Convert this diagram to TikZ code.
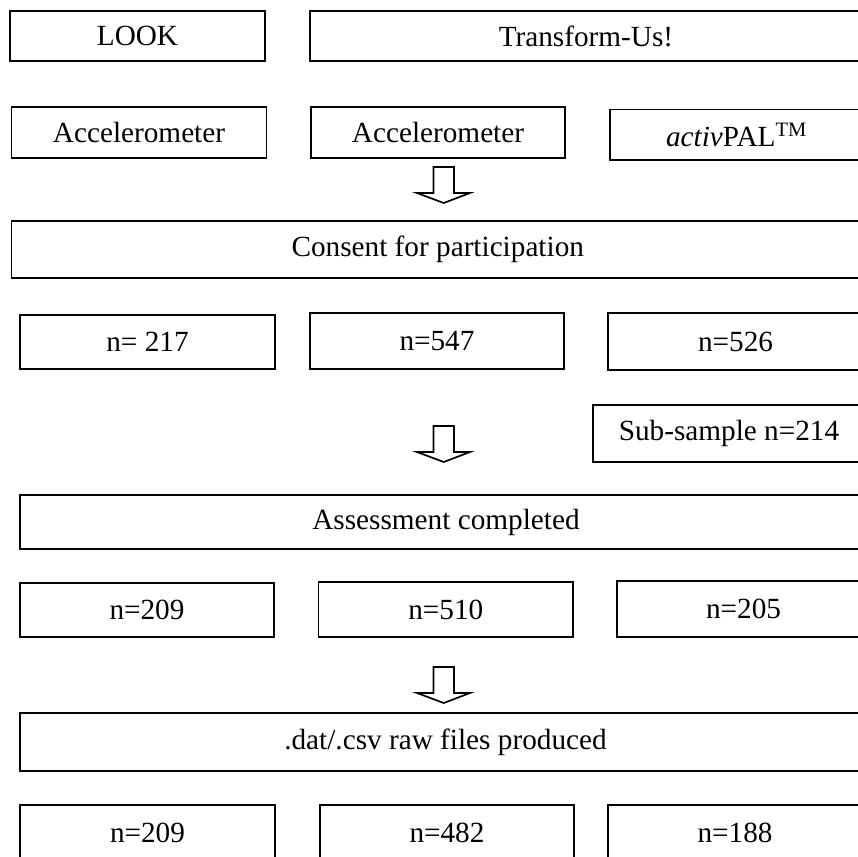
\documentclass[tikz,border=0pt]{standalone}
\usepackage{fontspec}
\setmainfont{Liberation Serif}

\begin{document}
\begin{tikzpicture}[
    x=0.025cm, y=-0.025cm,
    box/.style={rectangle, draw, line width=1.2pt, inner sep=0pt, outer sep=0pt, align=center, font=\fontsize{20.8}{25}\selectfont},
    boxsize/.style 2 args={minimum width=#1*0.025cm, minimum height=#2*0.025cm},
    blockarrow/.style={draw, line width=1.2pt, fill=white, line join=miter}
]
    \useasboundingbox (0,0) rectangle (858,857);
    \clip (0,0) rectangle (858,857);

    % studies
    \node[box, boxsize={255}{50}] (look) at (137.5,36) {LOOK};
    \node[box, boxsize={552}{50}] (transform) at (586,36) {Transform-Us!};

    % devices
    \node[box, boxsize={255}{51}] (acc1) at (139,132.5) {Accelerometer};
    \node[box, boxsize={254}{51}] (acc2) at (438,132.5) {Accelerometer};
    \node[box, boxsize={253}{50.5}] (activpal) at (736.5,134.75) {\textit{activ}PAL\textsuperscript{TM}};

    \node[box, boxsize={852.5}{57}] (consent) at (437.75,249.5) {Consent for participation};

    \node[box, boxsize={255}{54}] (c1) at (147.5,342) {n= 217};
    \node[box, boxsize={254}{56}] (c2) at (437,341) {n=547};
    \node[box, boxsize={255}{57}] (c3) at (735.5,341.5) {n=526};
    \node[box, boxsize={272}{57}] (sub) at (729,433.5) {Sub-sample n=214};

    \node[box, boxsize={852}{54}] (assess) at (446,522) {Assessment completed};

    \node[box, boxsize={254}{54}] (a1) at (147,610) {n=209};
    \node[box, boxsize={254.5}{55}] (a2) at (445.75,609.5) {n=510};
    \node[box, boxsize={253}{56}] (a3) at (743.5,609) {n=205};

    \node[box, boxsize={851}{58}] (raw) at (445.5,742) {.dat/.csv raw files produced};

    \node[box, boxsize={255}{56}] (r1) at (147.5,833) {n=209};
    \node[box, boxsize={254}{56}] (r2) at (447,833) {n=482};
    \node[box, boxsize={254}{56}] (r3) at (735,833) {n=188};

    % down arrows
    \foreach \t in {167,426,667}
        \draw[blockarrow] (433.5,\t) -- (454,\t) -- (454,\t+26) -- (470,\t+26)
            -- (443.75,\t+36) -- (417,\t+26) -- (433.5,\t+26) -- cycle;
\end{tikzpicture}
\end{document}
